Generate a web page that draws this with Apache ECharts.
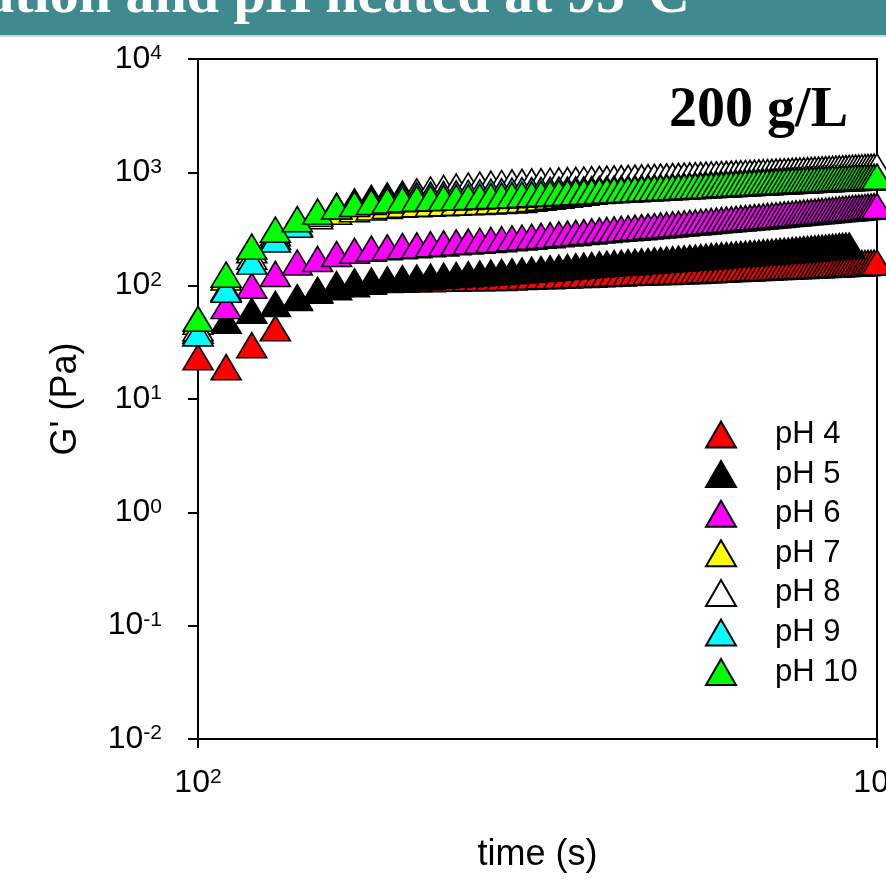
<!DOCTYPE html>
<html>
<head>
<meta charset="utf-8">
<script src="https://cdn.jsdelivr.net/npm/echarts@6/dist/echarts.min.js"></script>
<style>
  html, body { margin: 0; padding: 0; background: #fff; }
  #chart { width: 886px; height: 882px; }
</style>
</head>
<body>
<div id="chart"></div>
<script>
// Sampling times (s)
const timeS = [
  100, 110, 120, 130, 140, 150, 160, 170, 180, 190, 200,
  210, 220, 230, 240, 250, 260, 270, 280, 290, 300,
  310, 320, 330, 340, 350, 360, 370, 380, 390, 400,
  410, 420, 430, 440, 450, 460, 470, 480, 490, 500,
  510, 520, 530, 540, 550, 560, 570, 580, 590, 600,
  610, 620, 630, 640, 650, 660, 670, 680, 690, 700,
  710, 720, 730, 740, 750, 760, 770, 780, 790, 800,
  810, 820, 830, 840, 850, 860, 870, 880, 890, 900,
  910, 920, 930, 940, 950, 960, 970, 980, 990, 1000
];

// Storage modulus G' (Pa) for each pH
const gPH4 = [
  23.4, 19.1, 29.8, 42, 78, 92, 103, 109, 111, 112, 113,
  114, 114, 115, 115, 116, 116, 117, 117, 118, 119,
  120, 121, 121, 122, 123, 124, 124, 125, 126, 127,
  128, 128, 129, 130, 130, 131, 131, 132, 132, 133,
  134, 134, 135, 135, 136, 137, 137, 138, 138, 139,
  140, 140, 141, 141, 142, 143, 143, 144, 144, 145,
  146, 146, 147, 147, 148, 148, 149, 149, 150, 150,
  151, 151, 152, 152, 153, 153, 154, 154, 155, 155,
  156, 156, 157, 157, 158, 158, 159, 159, 160, 160
];
const gPH5 = [
  38, 49, 60, 69, 79, 90, 97, 103, 108, 113, 116,
  118, 120, 122, 124, 126, 128, 130, 132, 134, 136,
  138, 140, 142, 144, 146, 148, 150, 152, 154, 156,
  158, 159, 161, 162, 164, 165, 167, 168, 170, 171,
  173, 174, 176, 177, 179, 180, 182, 183, 185, 186,
  187, 189, 190, 191, 193, 194, 195, 197, 198, 199,
  200, 202, 203, 204, 206, 207, 208, 210, 211, 212,
  213, 215, 216, 217, 219, 220, 221, 223, 224, 225,
  226
];
const gPH6 = [
  40, 66, 100, 127, 160, 172, 190, 203, 212, 218, 223,
  227, 232, 236, 241, 245, 249, 253, 257, 262, 266,
  270, 275, 279, 284, 288, 292, 297, 301, 306, 310,
  314, 317, 321, 325, 328, 332, 336, 340, 343, 347,
  351, 354, 358, 361, 365, 368, 372, 375, 379, 382,
  385, 389, 392, 395, 399, 402, 405, 408, 412, 415,
  418, 421, 425, 428, 431, 434, 437, 441, 444, 447,
  450, 453, 456, 459, 462, 465, 468, 471, 474, 477,
  480, 483, 485, 488, 491, 494, 497, 499, 502, 505
];
const gPH7 = [
  48, 118, 205, 290, 355, 410, 448, 472, 490, 505, 518,
  523, 528, 533, 538, 543, 548, 553, 558, 564, 570,
  583, 596, 609, 622, 635, 648, 661, 674, 687, 700,
  706, 712, 718, 724, 730, 736, 742, 748, 754, 760,
  765, 769, 774, 778, 783, 787, 792, 796, 801, 805,
  810, 814, 819, 823, 828, 832, 837, 841, 846, 850,
  854, 858, 862, 866, 870, 874, 878, 882, 886, 890,
  894, 897, 901, 904, 908, 911, 915, 918, 922, 925,
  928, 931, 934, 937, 940, 943, 946, 949, 952, 955
];
const gPH8 = [
  42, 95, 180, 270, 350, 435, 505, 555, 595, 625, 650,
  680, 705, 728, 748, 765, 780, 793, 805, 815, 825,
  831, 836, 842, 847, 853, 858, 864, 869, 875, 880,
  885, 889, 894, 898, 903, 907, 912, 916, 921, 925,
  930, 934, 939, 943, 948, 952, 957, 961, 966, 970,
  974, 978, 982, 986, 990, 994, 998, 1002, 1006, 1010,
  1014, 1018, 1022, 1026, 1030, 1034, 1038, 1042, 1046, 1050,
  1054, 1058, 1062, 1066, 1070, 1074, 1078, 1082, 1086, 1090,
  1094, 1097, 1101, 1104, 1108, 1111, 1115, 1118, 1122, 1125
];
const gPH9 = [
  38, 92, 163, 255, 345, 430, 500, 540, 575, 600, 620,
  628, 636, 644, 652, 660, 667, 674, 681, 688, 695,
  697, 699, 701, 703, 705, 707, 709, 711, 713, 715,
  718, 721, 724, 727, 730, 733, 736, 739, 742, 745,
  749, 753, 757, 761, 765, 769, 773, 777, 781, 785,
  789, 792, 796, 800, 803, 807, 811, 815, 818, 822,
  825, 829, 832, 836, 839, 843, 846, 849, 853, 856,
  859, 862, 865, 868, 871, 874, 877, 880, 883, 886,
  888, 891, 893, 896, 898, 900, 903, 905, 908, 910
];
const gPH10 = [
  51, 125, 221, 312, 386, 450, 500, 525, 548, 565, 580,
  585, 590, 595, 600, 605, 611, 617, 623, 629, 635,
  640, 646, 651, 657, 662, 668, 673, 679, 684, 690,
  695, 700, 705, 710, 715, 720, 725, 730, 735, 740,
  744, 749, 753, 758, 762, 767, 771, 776, 780, 785,
  789, 793, 797, 801, 805, 809, 813, 817, 821, 825,
  828, 832, 835, 839, 842, 846, 849, 853, 856, 860,
  863, 866, 869, 872, 875, 878, 881, 884, 887, 890,
  892, 895, 897, 900, 902, 905, 907, 910, 912, 915
];

const seriesNames = ['pH 4', 'pH 5', 'pH 6', 'pH 7', 'pH 8', 'pH 9', 'pH 10'];
const seriesValues = [gPH4, gPH5, gPH6, gPH7, gPH8, gPH9, gPH10];
const seriesColors = ['#ff0000', '#000000', '#ff00ff', '#ffff00', '#ffffff', '#00ffff', '#00ff00'];

const SANS = '"Liberation Sans", Arial, sans-serif';
const SERIF = '"Liberation Serif", "Times New Roman", serif';

// Decade labels written as 10 with a raised exponent
function powerLabel(v) {
  const e = Math.round(Math.log10(v));
  return '{b|10}{s|' + e + '}';
}
const powerRich = {
  b: { fontFamily: SANS, fontSize: 32, lineHeight: 32, color: '#000' },
  s: { fontFamily: SANS, fontSize: 21, lineHeight: 21, color: '#000', verticalAlign: 'top' }
};

const chart = echarts.init(document.getElementById('chart'), null, { renderer: 'canvas' });

const option = {
  animation: false,
  backgroundColor: '#ffffff',
  grid: {
    left: 198, top: 59, width: 679, height: 680,
    outerBoundsMode: 'none', containLabel: false,
    show: true, borderColor: '#000', borderWidth: 2, backgroundColor: 'transparent'
  },
  xAxis: {
    type: 'log', logBase: 10, min: 100, max: 1000,
    name: 'time (s)', nameLocation: 'middle', nameGap: 98,
    nameTextStyle: { fontFamily: SANS, fontSize: 36, color: '#000' },
    axisLine: { show: true, onZero: false, lineStyle: { color: '#000', width: 2 } },
    axisTick: { show: true, inside: false, length: 9, lineStyle: { color: '#000', width: 2 } },
    minorTick: { show: false },
    splitLine: { show: false },
    axisLabel: { margin: 28, formatter: powerLabel, rich: powerRich, hideOverlap: false }
  },
  yAxis: {
    type: 'log', logBase: 10, min: 0.01, max: 10000,
    name: "G' (Pa)", nameLocation: 'middle', nameGap: 114,
    nameTextStyle: { fontFamily: SANS, fontSize: 36, color: '#000' },
    axisLine: { show: true, onZero: false, lineStyle: { color: '#000', width: 2 } },
    axisTick: { show: true, inside: false, length: 10, lineStyle: { color: '#000', width: 2 } },
    minorTick: { show: false },
    splitLine: { show: false },
    axisLabel: { margin: 36, formatter: powerLabel, rich: powerRich }
  },
  legend: {
    orient: 'vertical', left: 700, top: 414,
    itemWidth: 30, itemHeight: 26, itemGap: 8.6,
    selectedMode: false,
    textStyle: { fontFamily: SANS, fontSize: 31, lineHeight: 26, color: '#000', padding: [0, 0, 0, 34] },
    data: seriesNames
  },
  graphic: [
    { type: 'rect', left: 0, top: 0, z: 10,
      shape: { width: 886, height: 35 }, style: { fill: '#3e8a8f' } },
    { type: 'rect', left: 0, top: 35, z: 10,
      shape: { width: 886, height: 2 }, style: { fill: '#c9dadb' } },
    { type: 'text', z: 11,
      style: { text: 'concentration and pH heated at 95°C', x: 690, y: -3,
               align: 'right', verticalAlign: 'middle',
               font: 'bold 58px ' + SERIF, fill: '#ffffff' } },
    { type: 'text', z: 11,
      style: { text: '200 g/L', x: 848, y: 112,
               align: 'right', verticalAlign: 'middle',
               font: 'bold 56px ' + SERIF, fill: '#000000' } }
  ],
  series: seriesNames.map((name, i) => ({
    name: name,
    type: 'scatter',
    symbol: 'triangle',
    symbolSize: [30, 25],
    clip: false,
    itemStyle: { color: seriesColors[i], borderColor: '#000', borderWidth: 1.6, opacity: 1 },
    emphasis: { disabled: true },
    data: seriesValues[i].map((v, k) => [timeS[k], v])
  }))
};

chart.setOption(option);
</script>
</body>
</html>
